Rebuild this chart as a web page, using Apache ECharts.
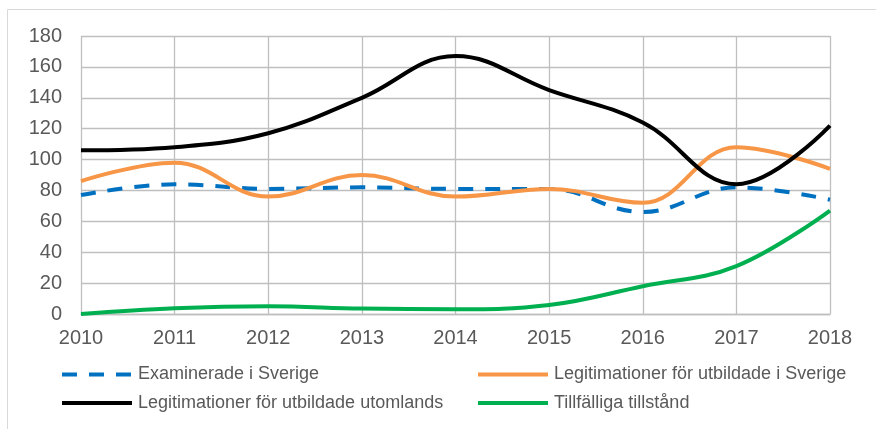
<!DOCTYPE html>
<html>
<head>
<meta charset="utf-8">
<script src="https://cdn.jsdelivr.net/npm/echarts@6/dist/echarts.min.js"></script>
<style>
html,body{margin:0;padding:0;background:#fff;}
#c{width:876px;height:429px;}
</style>
</head>
<body>
<div id="c"></div>
<script>
var years = ['2010','2011','2012','2013','2014','2015','2016','2017','2018'];
var yTicks = [0, 20, 40, 60, 80, 100, 120, 140, 160, 180];
var examinerade = [77, 84, 81, 82, 81, 81, 66, 82, 74];
var legSverige = [86, 98, 76, 90, 76, 81, 72, 108, 94];
var legUtomlands = [106, 108, 117, 140, 167, 145, 124, 84, 122];
var tillfalliga = [0, 3.7, 5, 3.5, 3, 5.8, 18, 31, 67];

var names = ['Examinerade i Sverige', 'Legitimationer för utbildade i Sverige',
             'Legitimationer för utbildade utomlands', 'Tillfälliga tillstånd'];
var colors = ['#0070C0', '#F79646', '#000000', '#00B050'];
var font = '"Liberation Sans", Arial, sans-serif';

function mkLegend(name, left, top) {
  return {
    data: [name], left: left, top: top, orient: 'horizontal',
    itemWidth: 70, itemHeight: 18, padding: 0,
    lineStyle: { width: 4 },
    itemStyle: { opacity: 0, borderWidth: 0 },
    textStyle: { fontFamily: font, fontSize: 18, color: '#595959', padding: [0, 0, 0, 1] },
    selectedMode: false
  };
}
function mkSeries(i, data, dashed) {
  return {
    name: names[i], type: 'line', data: data, smooth: 0.4,
    symbol: 'none', color: colors[i],
    lineStyle: { width: 4, color: colors[i], type: dashed ? [15, 12] : 'solid', cap: 'butt' },
    z: 2 + i
  };
}

var chart = echarts.init(document.getElementById('c'), null, { renderer: 'canvas' });
chart.setOption({
  animation: false,
  backgroundColor: '#ffffff',
  graphic: [{
    type: 'rect', shape: { x: 7.5, y: 9.5, width: 900, height: 500 },
    style: { fill: 'none', stroke: '#D9D9D9', lineWidth: 1 }, silent: true, z: -1
  }],
  grid: { left: 81, right: 46, top: 36, bottom: 115, containLabel: false },
  legend: [
    mkLegend(names[0], 60, 365.5),
    mkLegend(names[1], 476, 365.5),
    mkLegend(names[2], 60, 394),
    mkLegend(names[3], 476, 394)
  ],
  xAxis: {
    type: 'category', data: years, boundaryGap: false,
    axisLine: { show: true, lineStyle: { color: '#BFBFBF', width: 1.3 } },
    axisTick: { show: false },
    splitLine: { show: true, lineStyle: { color: '#BFBFBF', width: 1.3 } },
    axisLabel: { fontFamily: font, fontSize: 20, color: '#595959', margin: 14 }
  },
  yAxis: {
    type: 'value', min: yTicks[0], max: yTicks[yTicks.length - 1], interval: yTicks[1] - yTicks[0],
    axisLine: { show: false }, axisTick: { show: false },
    splitLine: { show: true, lineStyle: { color: '#BFBFBF', width: 1.3 } },
    axisLabel: { fontFamily: font, fontSize: 20, color: '#595959', margin: 19 }
  },
  series: [
    mkSeries(0, examinerade, true),
    mkSeries(1, legSverige, false),
    mkSeries(2, legUtomlands, false),
    mkSeries(3, tillfalliga, false)
  ]
});
</script>
</body>
</html>
